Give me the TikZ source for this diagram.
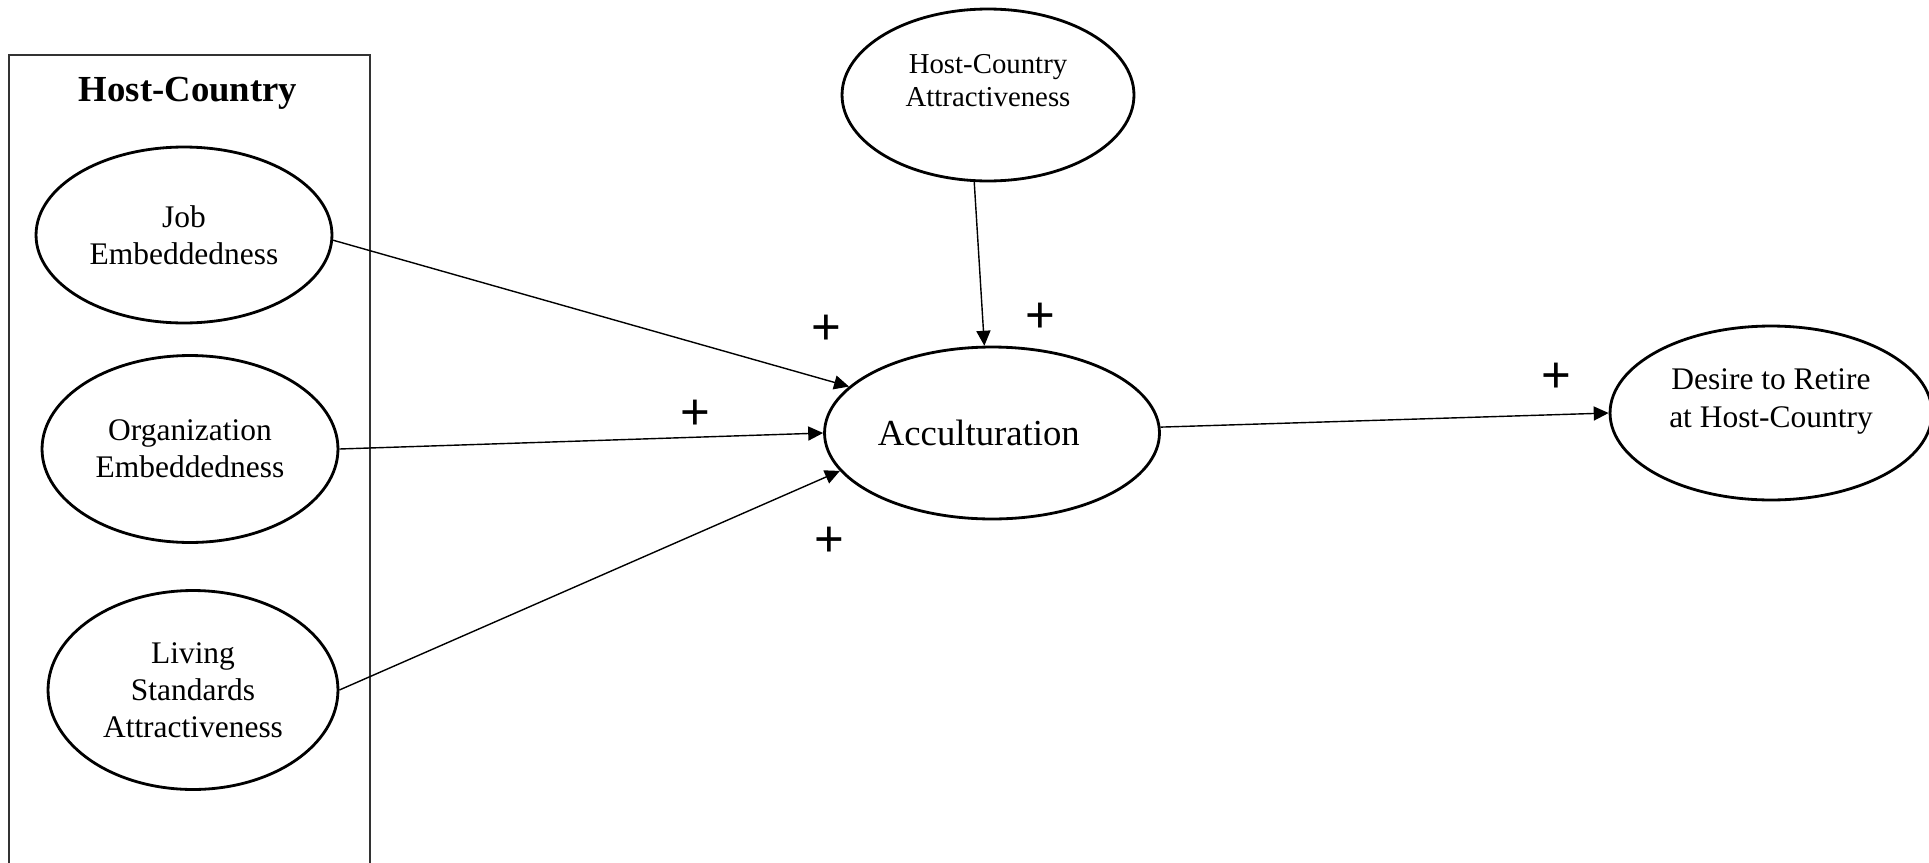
\documentclass[tikz,border=0pt]{standalone}
\usepackage{fontspec}
\setmainfont{Liberation Serif}
\newfontfamily\plusfont{Liberation Sans}
\usetikzlibrary{shapes.geometric,arrows.meta}

\begin{document}
\begin{tikzpicture}[x=0.02cm, y=-0.02cm,
  construct/.style={draw, ellipse, line width=1.6pt, inner sep=0pt, align=center, font=\fontsize{17.9}{21}\selectfont},
  effect/.style={line width=0.8pt, -{Triangle[length=8.5pt, width=8pt]}},
  signlabel/.style={font=\plusfont\fontsize{29}{29}\selectfont, inner sep=0pt}]
  \clip (0,0) rectangle (1929,862);
  \fill[white] (0,0) rectangle (1929,862);
  \draw[black!80, line width=0.6pt] (9,55) rectangle (370,880);
  \node[font=\bfseries\fontsize{20.9}{25}\selectfont] (hosttitle) at (188,93) {Host-Country};
  \node[construct, minimum width=5.92cm, minimum height=3.52cm] (job) at (184,235) {Job\\Embeddedness};
  \node[construct, minimum width=5.92cm, minimum height=3.74cm] (org) at (190,449) {Organization\\Embeddedness};
  \node[construct, minimum width=5.8cm, minimum height=3.98cm] (living) at (193,690) {Living\\Standards\\Attractiveness};
  \node[construct, minimum width=5.84cm, minimum height=3.44cm, text depth=17pt, font=\fontsize{16.4}{18.8}\selectfont] (hca) at (988,95) {Host-Country\\Attractiveness};
  \node[construct, minimum width=6.7cm, minimum height=3.44cm, font=\fontsize{20.9}{25}\selectfont] (accult) at (992,433) {Acculturation\rule{15pt}{0pt}};
  \node[construct, minimum width=6.44cm, minimum height=3.48cm, text depth=17.5pt, font=\fontsize{17.9}{21.6}\selectfont] (desire) at (1771,413) {Desire to Retire\\at Host-Country};
  \draw[effect] (job.-2) -- (accult.162);
  \draw[effect] (org.east) -- (accult.west);
  \draw[effect] (living.east) -- (accult.194);
  \draw[effect] (hca.261) -- (accult.95);
  \draw[effect] (accult.2) -- (desire.west);
  \node[signlabel] (s1) at (826,330) {+};
  \node[signlabel] (s2) at (695,415) {+};
  \node[signlabel] (s3) at (829,542) {+};
  \node[signlabel] (s4) at (1040,318) {+};
  \node[signlabel] (s5) at (1556,378) {+};
\end{tikzpicture}
\end{document}
